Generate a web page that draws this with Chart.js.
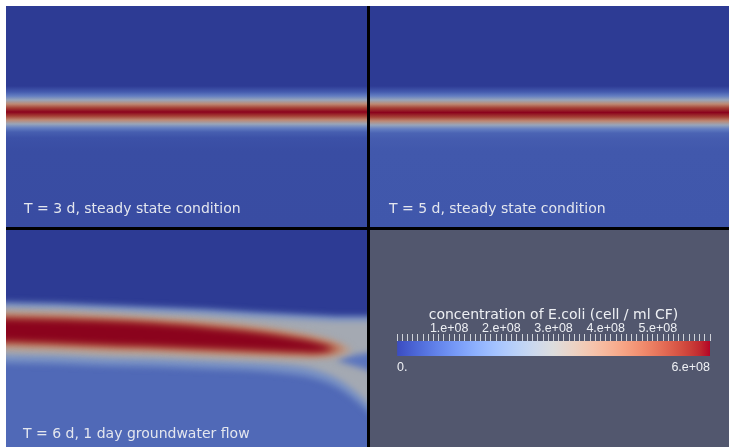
<!DOCTYPE html>
<html>
<head>
<meta charset="utf-8">
<script src="https://cdn.jsdelivr.net/npm/chart.js@4.4.1/dist/chart.umd.min.js"></script>
<style>
html,body{margin:0;padding:0;background:#fff;width:729px;height:447px;overflow:hidden}
.frame{position:absolute;left:6px;top:6px;width:723px;height:441px;background:#000}
.panel{position:absolute;overflow:hidden;width:361px;height:221px}
.panel canvas{display:block}
.caption{position:absolute;font-family:"DejaVu Sans";font-size:14px;line-height:16px;color:#e3e6ee;white-space:nowrap}
</style>
</head>
<body>
<div class="frame"></div>
<div class="panel" id="p1" style="left:6px;top:6px">
  <canvas id="c1" width="361" height="221"></canvas>
  <div class="caption" style="left:18px;top:194px">T = 3 d, steady state condition</div>
</div>
<div class="panel" id="p2" style="left:370px;top:6px;width:359px">
  <canvas id="c2" width="359" height="221"></canvas>
  <div class="caption" style="left:19px;top:194px">T = 5 d, steady state condition</div>
</div>
<div class="panel" id="p3" style="left:6px;top:230px">
  <canvas id="c3" width="361" height="221"></canvas>
  <div class="caption" style="left:17px;top:195px">T = 6 d, 1 day groundwater flow</div>
</div>
<div class="panel" id="p4" style="left:370px;top:230px;width:359px;background:#52576e">
  <canvas id="c4" width="359" height="221"></canvas>
</div>
<script>
// concentration of E.coli in 1e8 cell / ml CF, depth in m below the top of the view
const viewWidth = 3.61
const viewDepth = 2.21

// T = 3 d and T = 5 d: the field is the same along x, so one vertical profile each
const depthT3 = [0, 0.80, 0.86, 0.90, 0.94, 0.98, 1.02, 1.06, 1.10, 1.14, 1.18, 1.22, 1.26, 1.32, 1.45, 2.21]
const concT3  = [0, 0,    0.6,  1.3,  2.5,  4.1,  5.4,  6.0,  5.4,  4.1,  2.5,  1.3,  0.65, 0.4,  0.32, 0.3]
const depthT5 = [0, 0.80, 0.86, 0.90, 0.94, 0.98, 1.02, 1.065, 1.11, 1.15, 1.19, 1.23, 1.27, 1.33, 1.45, 2.21]
const concT5  = [0, 0,    0.6,  1.3,  2.5,  4.1,  5.4,  6.0,   5.4,  4.1,  2.5,  1.3,  0.75, 0.6,  0.52, 0.5]

// T = 6 d: iso-bands of the plume, x along the flow (m), depth of upper / lower edge (m)
const t6BaseConc = 0.85
const t6BaseX      = [-0.2, 0, 1, 2, 3, 3.3, 3.61, 3.8]
const t6BaseTop    = [1.00, 1.00, 1.03, 1.08, 1.15, 1.18, 1.18, 1.18]
const t6BaseBottom = [2.4, 2.4, 2.4, 2.4, 2.4, 2.4, 2.4, 2.4]

const t6HaloX = [-0.2, 0, 0.5, 1.0, 1.5, 2.0, 2.5, 2.9, 3.1, 3.3, 3.45, 3.61, 3.8]
const t6OuterConc = 1.7
const t6OuterTop    = [.72, .72, .73, .75, .77, .79, .82, .84, .85, .86, .86, .86, .86]
const t6OuterBottom = [1.33, 1.33, 1.34, 1.36, 1.37, 1.39, 1.41, 1.45, 1.49, 1.57, 1.67, 1.81, 1.99]
const t6HaloConc = 2.8
const t6HaloTop    = [.77, .77, .78, .80, .82, .84, .87, .89, .90, .91, .91, .91, .91]
const t6HaloBottom = [1.25, 1.25, 1.26, 1.28, 1.29, 1.31, 1.33, 1.36, 1.40, 1.48, 1.58, 1.72, 1.90]

const t6HoleConc = 1.1
const t6HoleX      = [3.3, 3.45, 3.61, 3.8]
const t6HoleTop    = [1.30, 1.26, 1.23, 1.21]
const t6HoleBottom = [1.30, 1.35, 1.40, 1.48]

const t6MidConc = 3.6
const t6MidX      = [-0.2, 0, 0.5, 1.0, 1.5, 2.0, 2.5, 2.9, 3.1, 3.3, 3.45]
const t6MidTop    = [.81, .81, .82, .84, .87, .90, .95, 1.01, 1.05, 1.11, 1.20]
const t6MidBottom = [1.20, 1.20, 1.21, 1.23, 1.24, 1.26, 1.275, 1.29, 1.29, 1.27, 1.20]

const t6WarmConc = 4.5
const t6WarmX      = [-0.2, 0, 0.5, 1.0, 1.5, 2.0, 2.5, 2.9, 3.1, 3.25, 3.37]
const t6WarmTop    = [.85, .85, .86, .88, .905, .94, .99, 1.05, 1.09, 1.13, 1.19]
const t6WarmBottom = [1.15, 1.15, 1.165, 1.185, 1.20, 1.22, 1.24, 1.25, 1.255, 1.24, 1.19]

const t6HotConc = 5.3
const t6HotX      = [-0.2, 0, 0.5, 1.0, 1.5, 2.0, 2.5, 2.9, 3.1, 3.3]
const t6HotTop    = [.88, .88, .89, .905, .93, .97, 1.02, 1.08, 1.12, 1.19]
const t6HotBottom = [1.12, 1.12, 1.135, 1.155, 1.17, 1.19, 1.21, 1.225, 1.23, 1.19]

const t6CoreConc = 6.0
const t6CoreX      = [-0.2, 0, 0.5, 1.0, 1.5, 2.0, 2.5, 2.9, 3.1, 3.24]
const t6CoreTop    = [.90, .90, .91, .925, .95, .99, 1.04, 1.10, 1.14, 1.19]
const t6CoreBottom = [1.10, 1.10, 1.115, 1.135, 1.15, 1.17, 1.19, 1.205, 1.21, 1.19]

// colour bar
const cbarMin = 0
const cbarMax = 6
const cbarStep = 0.1
const cbarTickValues = [1, 2, 3, 4, 5]
const cbarTickLabels = ['1.e+08', '2.e+08', '3.e+08', '4.e+08', '5.e+08']
const cbarEndLabels = ['0.', '6.e+08']
const cbarTitle = 'concentration of E.coli (cell / ml CF)'

// paraview "cool to warm"
const CMAP = [[59,76,192],[68,90,204],[77,104,215],[87,117,225],[98,130,234],[108,142,241],[119,154,247],[130,165,251],[141,176,254],[152,185,255],[163,194,255],[174,201,253],[184,208,249],[194,213,244],[204,217,238],[213,219,230],[221,221,221],[229,216,209],[236,211,197],[241,204,184],[245,196,173],[247,187,160],[247,177,148],[247,166,135],[244,154,123],[241,141,111],[236,127,99],[229,112,88],[222,96,77],[213,80,66],[203,62,56],[192,40,47],[180,4,38]]
const SHADE = 0.77

function cmap(f, shade) {
  f = Math.min(1, Math.max(0, f))
  const t = f * (CMAP.length - 1)
  const i = Math.min(Math.floor(t), CMAP.length - 2)
  const k = t - i
  const c = CMAP[i].map((v, j) => (v + (CMAP[i + 1][j] - v) * k) * shade)
  return `rgb(${c.map(Math.round).join(',')})`
}
const concColor = (v, shade = SHADE) => cmap((v - cbarMin) / (cbarMax - cbarMin), shade)

const baseOpts = {
  responsive: false, animation: false, devicePixelRatio: 1,
  layout: {padding: 0},
  plugins: {legend: {display: false}, tooltip: {enabled: false}}
}

function profileGradient(chart, depths, concs) {
  if (!chart.chartArea) return 'transparent'
  const y = chart.scales.y
  const p0 = y.getPixelForValue(0), p1 = y.getPixelForValue(viewDepth)
  const g = chart.ctx.createLinearGradient(0, p0, 0, p1)
  depths.forEach((d, i) => {
    const off = (y.getPixelForValue(d) - p0) / (p1 - p0)
    g.addColorStop(Math.min(1, Math.max(0, off)), concColor(concs[i]))
  })
  return g
}

function profileChart(id, depths, concs) {
  new Chart(document.getElementById(id), {
    type: 'bar',
    data: {
      labels: ['profile'],
      datasets: [{
        data: [[0, viewDepth]],
        backgroundColor: c => profileGradient(c.chart, depths, concs),
        borderWidth: 0, barPercentage: 1, categoryPercentage: 1
      }]
    },
    options: {
      ...baseOpts,
      scales: {
        x: {display: false},
        y: {display: false, min: 0, max: viewDepth, reverse: true}
      }
    }
  })
}

profileChart('c1', depthT3, concT3)
profileChart('c2', depthT5, concT5)

// T = 6 d
function bandPoints(xs, tops, bottoms) {
  const pts = xs.map((x, i) => ({x, y: tops[i]}))
  for (let i = xs.length - 1; i >= 0; i--) {
    if (bottoms[i] === tops[i]) continue
    pts.push({x: xs[i], y: bottoms[i]})
  }
  return pts
}

const bandsT6 = [
  {conc: t6BaseConc, x: t6BaseX, top: t6BaseTop, bottom: t6BaseBottom},
  {conc: t6OuterConc, x: t6HaloX, top: t6OuterTop, bottom: t6OuterBottom},
  {conc: t6HaloConc, x: t6HaloX, top: t6HaloTop, bottom: t6HaloBottom},
  {conc: t6HoleConc, x: t6HoleX, top: t6HoleTop, bottom: t6HoleBottom},
  {conc: t6MidConc, x: t6MidX, top: t6MidTop, bottom: t6MidBottom},
  {conc: t6WarmConc, x: t6WarmX, top: t6WarmTop, bottom: t6WarmBottom},
  {conc: t6HotConc, x: t6HotX, top: t6HotTop, bottom: t6HotBottom},
  {conc: t6CoreConc, x: t6CoreX, top: t6CoreTop, bottom: t6CoreBottom}
]

const softEdges = {
  id: 'softEdges',
  beforeDatasetsDraw(chart, args, opts) {
    chart.ctx.save()
    chart.ctx.filter = `blur(${opts.px}px)`
  },
  afterDatasetsDraw(chart) { chart.ctx.restore() }
}

document.getElementById('p3').style.background = concColor(0)

new Chart(document.getElementById('c3'), {
  type: 'scatter',
  data: {
    // chart.js paints the first dataset last, so the core goes first
    datasets: bandsT6.map(b => ({
      data: bandPoints(b.x, b.top, b.bottom),
      showLine: true,
      fill: 'shape',
      backgroundColor: concColor(b.conc),
      borderColor: 'rgba(0,0,0,0)',
      borderWidth: 1,
      pointRadius: 0,
      tension: 0.35
    })).reverse()
  },
  options: {
    ...baseOpts,
    elements: {line: {capBezierPoints: false}},
    plugins: {...baseOpts.plugins, softEdges: {px: 3}},
    scales: {
      x: {type: 'linear', display: false, min: 0, max: viewWidth},
      y: {type: 'linear', display: false, min: 0, max: viewDepth, reverse: true}
    }
  },
  plugins: [softEdges]
})

// colour bar
function barGradient(chart) {
  if (!chart.chartArea) return 'transparent'
  const x = chart.scales.x
  const g = chart.ctx.createLinearGradient(x.getPixelForValue(cbarMin), 0, x.getPixelForValue(cbarMax), 0)
  CMAP.forEach((c, i) => g.addColorStop(i / (CMAP.length - 1), `rgb(${c.join(',')})`))
  return g
}

const textColor = '#eef0f4'
new Chart(document.getElementById('c4'), {
  type: 'bar',
  data: {
    labels: [''],
    datasets: [{
      data: [[cbarMin, cbarMax]],
      backgroundColor: c => barGradient(c.chart),
      borderWidth: 0, barPercentage: 1, categoryPercentage: 1
    }]
  },
  options: {
    ...baseOpts,
    indexAxis: 'y',
    layout: {padding: {left: 27, right: 19, top: 73, bottom: 75}},
    scales: {
      y: {display: false},
      x: {
        type: 'linear', position: 'top', min: cbarMin, max: cbarMax,
        afterFit: s => { s.height = 38 },
        grid: {drawOnChartArea: false, tickLength: 7, color: '#cfd2d9', lineWidth: 1},
        border: {display: false},
        ticks: {
          stepSize: cbarStep, autoSkip: false, maxRotation: 0, padding: -2,
          color: textColor, font: {family: 'Liberation Sans', size: 12.5},
          callback: v => {
            const i = cbarTickValues.findIndex(t => Math.abs(t - v) < 1e-6)
            return i >= 0 ? cbarTickLabels[i] : ''
          }
        },
        title: {
          display: true, text: cbarTitle, color: textColor,
          font: {family: 'DejaVu Sans', size: 14}, padding: {top: 4, bottom: 0}
        }
      },
      x2: {
        type: 'linear', position: 'bottom', min: cbarMin, max: cbarMax,
        afterBuildTicks: s => { s.ticks = [{value: cbarMin}, {value: cbarMax}] },
        afterFit: s => { s.height = 20 },
        grid: {display: false, drawTicks: false},
        border: {display: false},
        ticks: {
          align: 'inner', padding: 4, maxRotation: 0, autoSkip: false,
          color: textColor, font: {family: 'Liberation Sans', size: 12.5},
          callback: v => v === cbarMin ? cbarEndLabels[0] : cbarEndLabels[1]
        }
      }
    }
  }
})
</script>
</body>
</html>
